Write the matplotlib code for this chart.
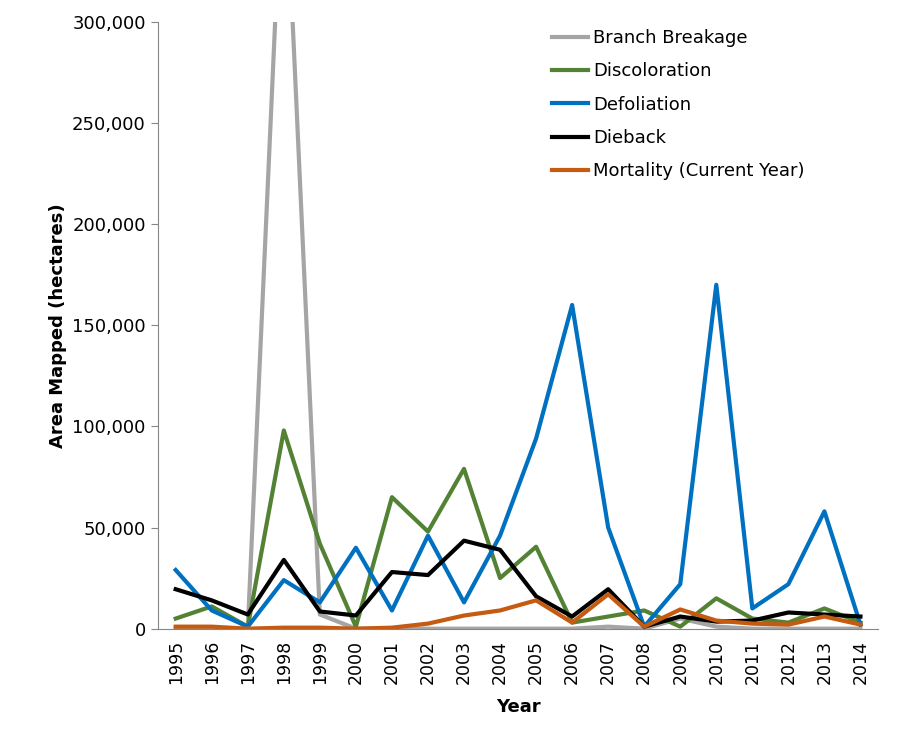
import matplotlib.pyplot as plt
from matplotlib.ticker import FuncFormatter

years = list(range(1995, 2015))
branch = [0, 0, 0, 395000, 7000, 0, 0, 0, 0, 0, 0, 0, 1000, 0, 5000, 1000, 0, 0, 0, 0]
discol = [5000, 11000, 1000, 98000, 42000, 1000, 65000, 48000, 79000, 25000,
          40500, 3000, 6000, 9000, 1000, 15000, 5000, 3000, 10000, 3000]
defol = [29000, 9000, 1000, 24000, 13000, 40000, 9000, 46000, 13000, 46000,
         94000, 160000, 50000, 1000, 22000, 170000, 10000, 22000, 58000, 2000]
dieback = [19500, 14000, 7000, 34000, 8500, 6500, 28000, 26500, 43500, 39000,
           16000, 6000, 19500, 1000, 6000, 3500, 4000, 8000, 7000, 6000]
mortality = [1000, 1000, 0, 500, 500, 0, 500, 2500, 6500, 9000,
             14000, 3000, 17000, 1000, 9500, 4000, 2500, 2000, 6000, 2000]

fig = plt.figure(figsize=(9.01, 7.52), dpi=100)
ax = fig.add_axes([0.175, 0.164, 0.8, 0.807])
lw = 3
ax.plot(years, branch, color='#a5a5a5', lw=lw, label='Branch Breakage')
ax.plot(years, discol, color='#548235', lw=lw, label='Discoloration')
ax.plot(years, defol, color='#0070c0', lw=lw, label='Defoliation')
ax.plot(years, dieback, color='black', lw=lw, label='Dieback')
ax.plot(years, mortality, color='#c55a11', lw=lw, label='Mortality (Current Year)')

ax.set_ylim(0, 300000)
ax.set_xlim(1994.5, 2014.5)
ax.set_xticks(years)
ax.set_xticklabels([str(y) for y in years], rotation=90, fontsize=12.5)
ax.set_yticks(range(0, 300001, 50000))
ax.yaxis.set_major_formatter(FuncFormatter(lambda v, p: f'{int(v):,}'))
ax.tick_params(axis='y', labelsize=13, direction='out', length=5, color='#868686')
ax.tick_params(axis='x', length=0, pad=8)
for s in ['top', 'right']:
    ax.spines[s].set_visible(False)
for s in ['left', 'bottom']:
    ax.spines[s].set_color('#868686')
ax.set_xlabel('Year', fontsize=13, fontweight='bold', labelpad=10)
ax.set_ylabel('Area Mapped (hectares)', fontsize=13, fontweight='bold')
ax.legend(loc='upper right', bbox_to_anchor=(0.92, 1.015), frameon=False, fontsize=13,
          handlelength=2.0, handletextpad=0.3, labelspacing=0.85)
fig.savefig('out.png')
